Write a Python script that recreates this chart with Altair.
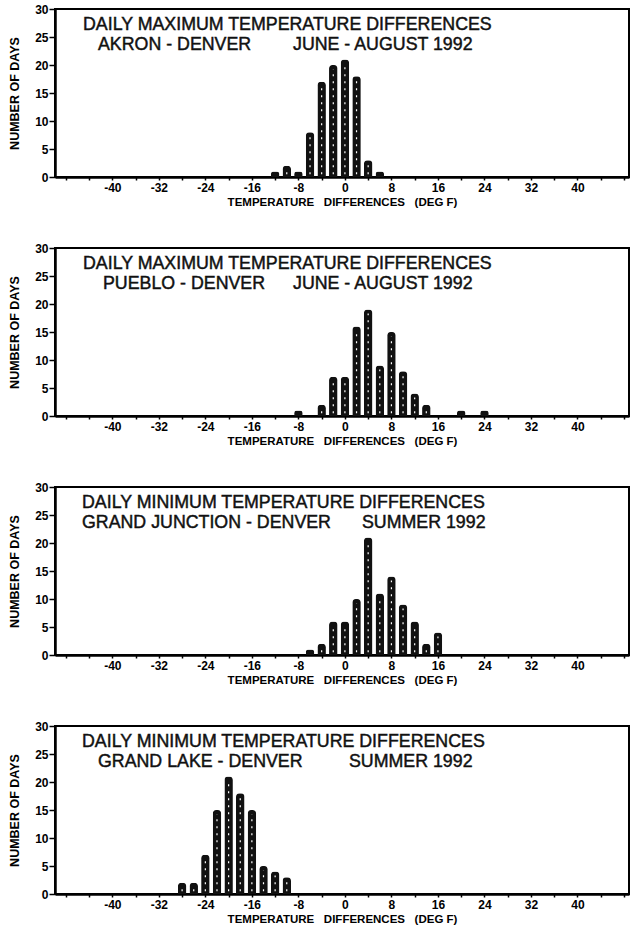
import altair as alt
import pandas as pd

# ---------------- data ----------------
# temperature-difference bin centres (deg F) and number of days per bin
akron_diff = [-12, -10, -8, -6, -4, -2, 0, 2, 4, 6]
akron_days = [1, 2, 1, 8, 17, 20, 21, 18, 3, 1]

pueblo_diff = [-8, -4, -2, 0, 2, 4, 6, 8, 10, 12, 14, 20, 24]
pueblo_days = [1, 2, 7, 7, 16, 19, 9, 15, 8, 4, 2, 1, 1]

gj_diff = [-6, -4, -2, 0, 2, 4, 6, 8, 10, 12, 14, 16]
gj_days = [1, 2, 6, 6, 10, 21, 11, 14, 9, 6, 2, 4]

gl_diff = [-28, -26, -24, -22, -20, -18, -16, -14, -12, -10]
gl_days = [2, 2, 7, 15, 21, 18, 15, 5, 4, 3]

title_line1 = [
    "DAILY MAXIMUM TEMPERATURE DIFFERENCES",
    "DAILY MAXIMUM TEMPERATURE DIFFERENCES",
    "DAILY MINIMUM TEMPERATURE DIFFERENCES",
    "DAILY MINIMUM TEMPERATURE DIFFERENCES",
]
title_station = [
    "AKRON - DENVER",
    "PUEBLO - DENVER",
    "GRAND JUNCTION - DENVER",
    "GRAND LAKE - DENVER",
]
title_period = [
    "JUNE - AUGUST 1992",
    "JUNE - AUGUST 1992",
    "SUMMER 1992",
    "SUMMER 1992",
]
x_tick_values = list(range(-48, 49, 4))
y_tick_values = [0, 5, 10, 15, 20, 25, 30]

# ---------------- layout / style (not data) ----------------
PLOT_W, PLOT_H = 574, 168
FONT = "Liberation Sans"
NB = "\u00a0"
# x pixel offsets of the three text pieces inside each panel
text_x = [
    (28, 43, 238),
    (28, 48, 238),
    (27, 27, 307),
    (27, 43, 294),
]
LINE1_Y, LINE2_Y = 21, 41

XSCALE = alt.Scale(domain=[-49, 48], nice=False, zero=False)
YSCALE = alt.Scale(domain=[0, 30], nice=False)
XAXIS = alt.Axis(
    values=x_tick_values,
    labelExpr="(datum.value % 8 == 0 && abs(datum.value) <= 40) ? toString(datum.value) : ''",
    labelOverlap=False,
    labelFlush=False,
    title="TEMPERATURE" + NB * 2 + " DIFFERENCES" + NB * 2 + " (DEG" + NB + "F)",
    titleFontSize=11.5,
    titlePadding=3,
    tickSize=3,
    tickWidth=1.5,
    domainWidth=2.5,
    labelPadding=2,
    grid=False,
)
YAXIS = alt.Axis(
    values=y_tick_values,
    labelOverlap=False,
    title="NUMBER OF DAYS",
    titleFontSize=12.5,
    titlePadding=13,
    tickSize=6,
    tickWidth=1.5,
    domainWidth=2.5,
    labelPadding=1,
    grid=False,
)


def panel(diffs, days, i):
    df = pd.DataFrame({"diff": diffs, "days": days})
    bars = alt.Chart(df).mark_bar(
        width=8.5, color="#111111", cornerRadiusTopLeft=3.5, cornerRadiusTopRight=3.5
    ).encode(
        x=alt.X("diff:Q", scale=XSCALE, axis=XAXIS),
        y=alt.Y("days:Q", scale=YSCALE, axis=YAXIS),
    )

    dashes = (
        alt.Chart(df)
        .transform_filter("datum.days >= 2")
        .transform_calculate(lo="0.5", hi="datum.days - 0.7")
        .mark_rule(color="white", strokeWidth=1.2, strokeDash=[2, 5])
        .encode(
            x=alt.X("diff:Q", scale=XSCALE, axis=XAXIS),
            y=alt.Y("lo:Q", scale=YSCALE, axis=YAXIS),
            y2="hi:Q",
        )
    )

    tdf = pd.DataFrame(
        {"l1": [title_line1[i]], "st": [title_station[i]], "pe": [title_period[i]]}
    )
    tx = text_x[i]
    base_text = alt.Chart(tdf).mark_text(
        align="left",
        baseline="alphabetic",
        font=FONT,
        fontSize=17.8,
        color="#111111",
        stroke="#111111",
        strokeWidth=0.45,
    )
    t1 = base_text.encode(x=alt.value(tx[0]), y=alt.value(LINE1_Y), text="l1:N")
    t2 = base_text.encode(x=alt.value(tx[1]), y=alt.value(LINE2_Y), text="st:N")
    t3 = base_text.encode(x=alt.value(tx[2]), y=alt.value(LINE2_Y), text="pe:N")

    return alt.layer(bars, dashes, t1, t2, t3).properties(width=PLOT_W, height=PLOT_H)


chart = (
    alt.vconcat(
        panel(akron_diff, akron_days, 0),
        panel(pueblo_diff, pueblo_days, 1),
        panel(gj_diff, gj_days, 2),
        panel(gl_diff, gl_days, 3),
        spacing=71,
        bounds="flush",
    )
    .properties(padding={"left": 7, "top": 2, "right": 0, "bottom": 0}, background="white")
    .configure_view(stroke="black", strokeWidth=2)
    .configure_axis(
        labelFont=FONT,
        titleFont=FONT,
        labelFontSize=12,
        labelFontWeight="bold",
        titleFontWeight="bold",
        labelColor="black",
        titleColor="black",
        domainColor="black",
        tickColor="black",
    )
)

chart.save("out.html", embed_options={"renderer": "svg", "actions": False})
